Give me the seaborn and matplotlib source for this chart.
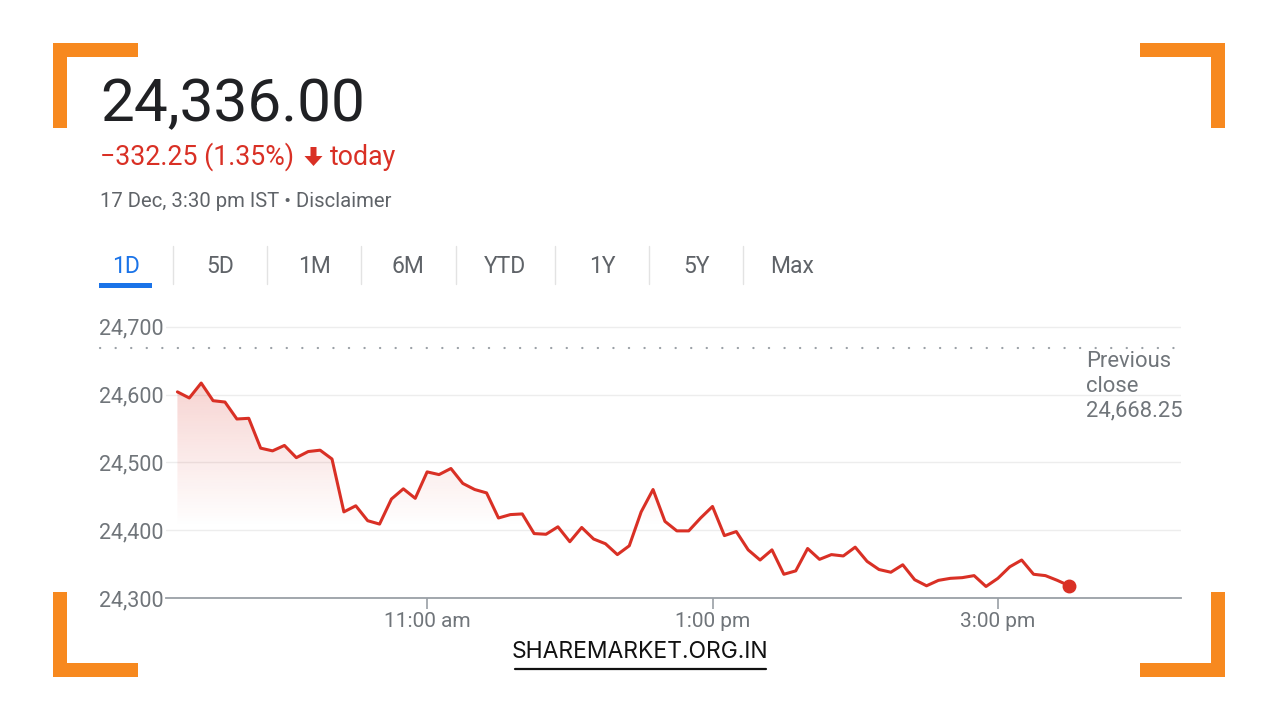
import numpy as np
import pandas as pd
import matplotlib
matplotlib.use("Agg")
import matplotlib.pyplot as plt
import seaborn as sns
from matplotlib.patches import Rectangle, PathPatch, Polygon
from matplotlib.lines import Line2D
from matplotlib.colors import to_rgb
import matplotlib.transforms as mtransforms

# ---------------- data ----------------
times = pd.date_range("2024-12-17 09:15", "2024-12-17 15:30", freq="5min")
values = [24604, 24595, 24617, 24591, 24589, 24564, 24565, 24521, 24517, 24525,
          24507, 24516, 24518, 24505, 24427, 24436, 24414, 24409, 24446, 24461,
          24447, 24486, 24482, 24491, 24469, 24460, 24455, 24418, 24423, 24424,
          24395, 24394, 24405, 24383, 24404, 24387, 24380, 24364, 24377, 24427,
          24460, 24413, 24399, 24399, 24418, 24435, 24392, 24398, 24371, 24356,
          24371, 24335, 24340, 24373, 24357, 24364, 24362, 24375, 24354, 24342,
          24338, 24349, 24327, 24318, 24326, 24329, 24330, 24333, 24317, 24329,
          24346, 24356, 24335, 24333, 24326, 24318]
prev_close = 24668.25
y_ticks = [24300, 24400, 24500, 24600, 24700]
y_tick_labels = ["24,300", "24,400", "24,500", "24,600", "24,700"]
x_tick_times = ["2024-12-17 11:00", "2024-12-17 13:00", "2024-12-17 15:00"]
x_tick_labels = ["11:00 am", "1:00 pm", "3:00 pm"]
tabs = ["1D", "5D", "1M", "6M", "YTD", "1Y", "5Y", "Max"]
price_text = "24,336.00"
change_text = "\u2212332.25 (1.35%)"
date_text = "17 Dec, 3:30 pm IST \u2022 Disclaimer"
prev_close_text = "Previous\nclose\n24,668.25"
footer_text = "SHAREMARKET.ORG.IN"

# ---------------- style ----------------
sns.set_theme(style="white")
plt.rcParams["font.family"] = ["Roboto", "DejaVu Sans"]

RED = "#d93025"
GREY_TXT = "#70757a"
GREY_AX = "#9aa0a6"
ORANGE = "#f7891f"
BLUE = "#1a73e8"

W, H = 1280, 720
fig = plt.figure(figsize=(12.8, 7.2), dpi=100)
fig.patch.set_facecolor("white")

def fx(x):
    return x / W

def fy(y):
    return 1 - y / H

# axes placement (pixel geometry)
ax_l, ax_r, ax_b, ax_t = 166, 1181, 598, 320
ax = fig.add_axes([fx(ax_l), fy(ax_b), (ax_r - ax_l) / W, (ax_b - ax_t) / H])

t0 = times[0]
minutes = (times - t0).total_seconds() / 60.0
df = pd.DataFrame({"minute": minutes, "value": values})

# gradient fill under line
poly = ax.fill_between(df["minute"], df["value"], 24300, color="none", lw=0)
path = poly.get_paths()[0]
grad_v = np.linspace(24300, 24630, 300)
alpha = np.clip((grad_v - 24405) / (24620 - 24405), 0, 1) * 0.21
rgba = np.zeros((300, 1, 4))
rgba[..., :3] = to_rgb(RED)
rgba[:, 0, 3] = alpha
im = ax.imshow(rgba, extent=[minutes.min(), minutes.max(), 24300, 24630],
               origin="lower", aspect="auto", zorder=1, interpolation="bilinear")
clip = PathPatch(path, transform=ax.transData, facecolor="none", edgecolor="none")
im.set_clip_path(clip)

sns.lineplot(data=df, x="minute", y="value", ax=ax, color=RED, lw=2.2, zorder=3)
ax.plot([df["minute"].iloc[-1]], [df["value"].iloc[-1]], "o", color=RED,
        ms=9, zorder=4, mec=RED)

# previous close dotted line (extends into label area)
trans = mtransforms.blended_transform_factory(ax.transAxes, ax.transData)
ax.plot([(100 - ax_l) / (ax_r - ax_l), 1.0], [prev_close, prev_close],
        transform=trans, color=GREY_AX, lw=1.6, ls=(0, (0.1, 6.9)),
        dash_capstyle="round", clip_on=False, zorder=2)

ax.set_xlim(-4.8, 422)
ax.set_ylim(24300, 24710)
ax.set_yticks(y_ticks)
ax.set_yticklabels(y_tick_labels)
xt = [(pd.Timestamp(t) - t0).total_seconds() / 60.0 for t in x_tick_times]
ax.set_xticks(xt)
ax.set_xticklabels(x_tick_labels)
ax.set_xlabel("")
ax.set_ylabel("")
for s in ["top", "right", "left"]:
    ax.spines[s].set_visible(False)
ax.spines["bottom"].set_color(GREY_AX)
ax.spines["bottom"].set_linewidth(1.3)
ax.tick_params(axis="y", length=0, pad=2, labelsize=15.5, labelcolor=GREY_TXT)
ax.tick_params(axis="x", length=8, width=1.2, color=GREY_AX, direction="out",
               pad=2, labelsize=15, labelcolor=GREY_TXT, bottom=True)
ax.yaxis.grid(True, color="#ededed", lw=1)
ax.xaxis.grid(False)
ax.set_axisbelow(True)
ax.set_facecolor("none")

# previous close label
fig.text(fx(1086), fy(351), prev_close_text, ha="left", va="top",
         fontsize=15.8, color=GREY_TXT, linespacing=1.24)

# ---------------- header ----------------
fig.text(fx(100), fy(121), price_text, fontsize=43.5, color="#202124",
         ha="left", va="baseline")
fig.text(fx(100), fy(165), change_text, fontsize=19.3, color=RED,
         ha="left", va="baseline")
# bold down arrow
arrow_px = [(310.5, 147), (316.5, 147), (316.5, 156), (322.5, 156), (313.5, 166),
            (304.5, 156), (310.5, 156)]
fig.add_artist(Polygon([(fx(x), fy(y)) for x, y in arrow_px], closed=True,
                       color=RED, lw=0))
fig.text(fx(330), fy(165), "today", fontsize=19.3, color=RED,
         ha="left", va="baseline")
fig.text(fx(100), fy(207), date_text, fontsize=14.6, color="#5f6368",
         ha="left", va="baseline")

# tabs
tab_x = [126, 220, 314, 408, 505, 602, 697, 792]
for lab, x in zip(tabs, tab_x):
    fig.text(fx(x), fy(273), lab, fontsize=16.5,
             color=BLUE if lab == "1D" else "#5f6368", ha="center", va="baseline")
for sx in [173, 267, 361, 456, 555, 649, 743]:
    fig.add_artist(Line2D([fx(sx), fx(sx)], [fy(246), fy(284)], color="#e3e3e3", lw=1))
fig.add_artist(Rectangle((fx(99), fy(288)), fx(152) - fx(99), (288 - 283) / H,
                         color=BLUE, lw=0))

# orange corner brackets
def rect(x0, y0, x1, y1):
    fig.add_artist(Rectangle((fx(x0), fy(y1)), (x1 - x0) / W, (y1 - y0) / H,
                             color=ORANGE, lw=0))

rect(53, 43, 138, 57); rect(53, 43, 67, 128)
rect(1140, 43, 1225, 57); rect(1211, 43, 1225, 128)
rect(53, 663, 138, 677); rect(53, 592, 67, 677)
rect(1140, 663, 1225, 677); rect(1211, 592, 1225, 677)

# footer
fig.text(fx(640), fy(658), footer_text, fontsize=16.5, color="#111111",
         ha="center", va="baseline", family=["Inter", "DejaVu Sans"])
fig.add_artist(Line2D([fx(515), fx(766)], [fy(669), fy(669)], color="#111111", lw=1.6))

fig.savefig("out.png", dpi=100, facecolor="white")
